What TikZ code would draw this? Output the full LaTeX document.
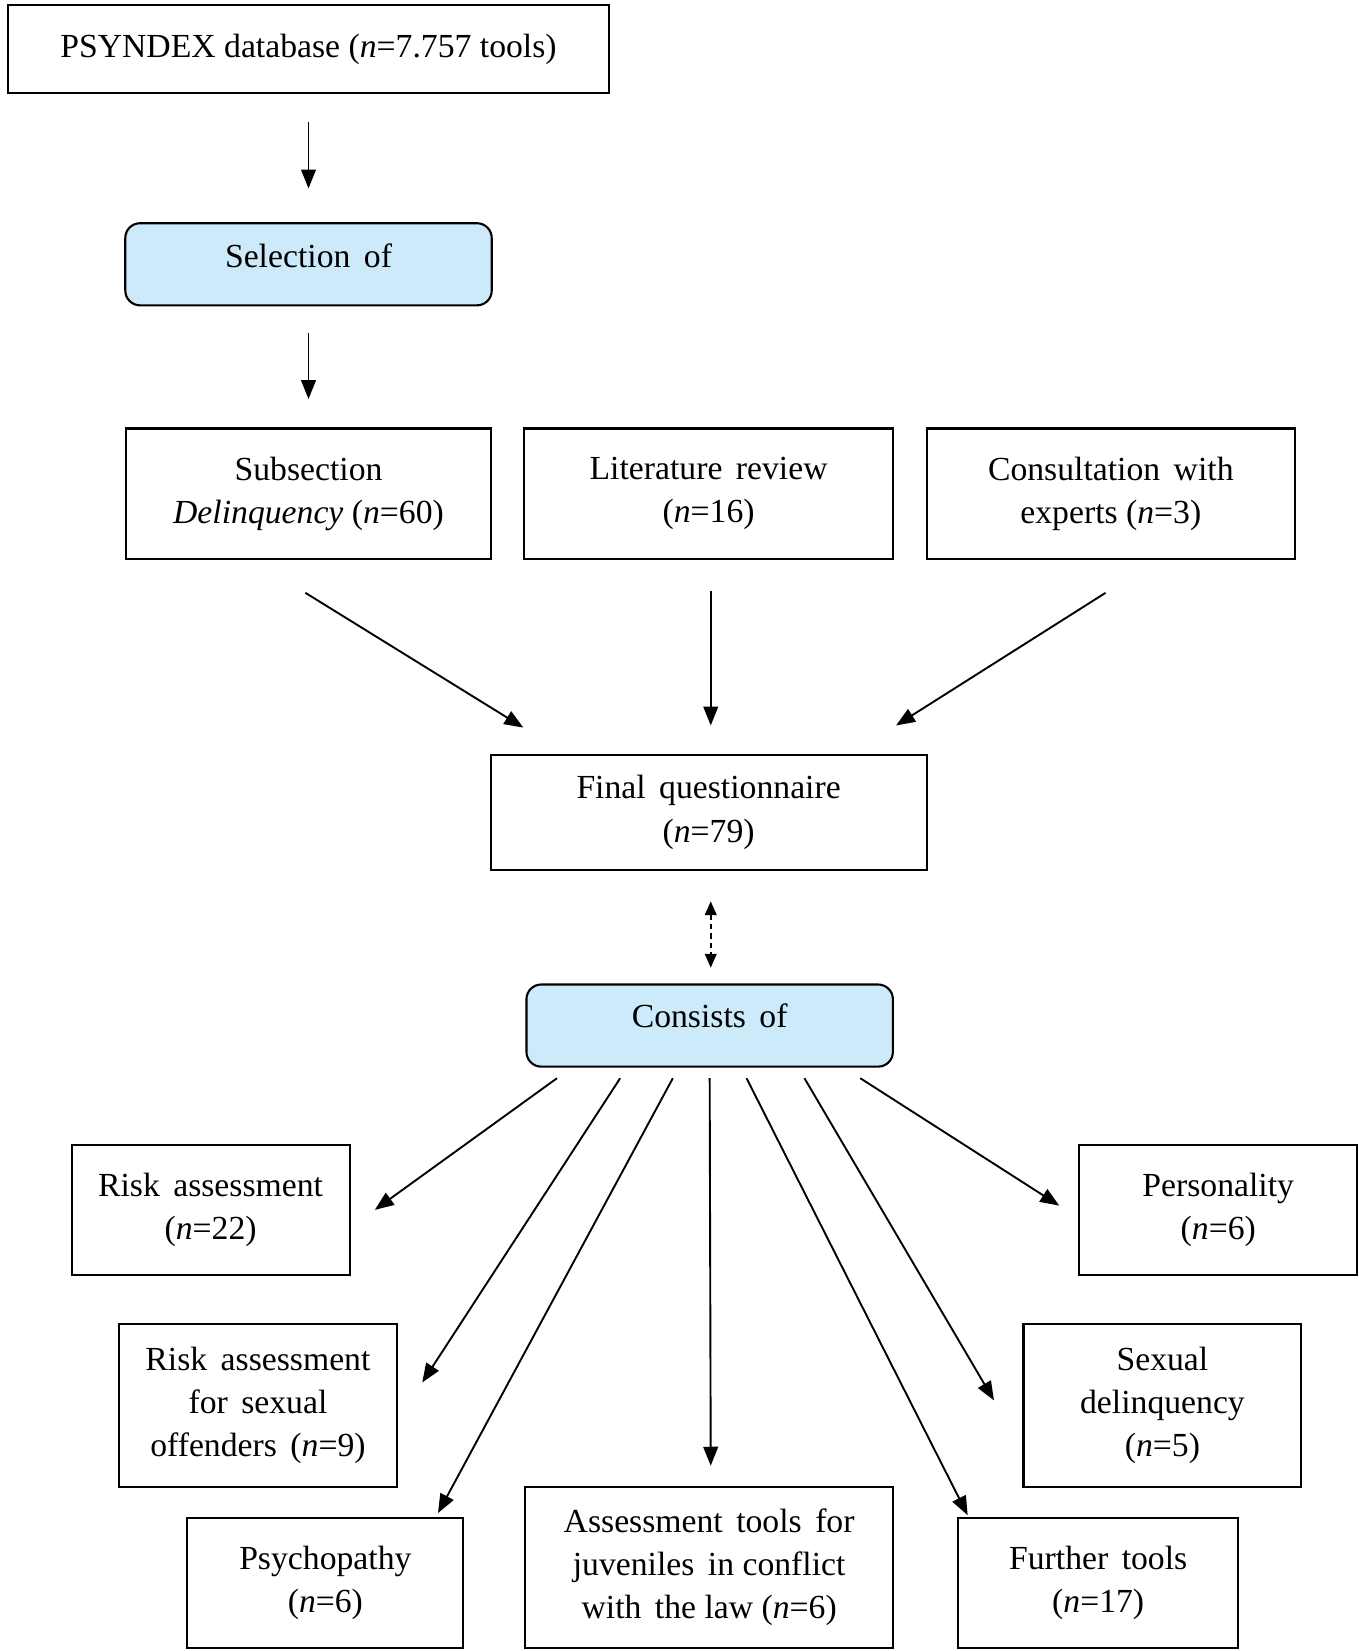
\documentclass[tikz,border=0pt]{standalone}
\usepackage{fontspec}
\setmainfont{Liberation Serif}
\usetikzlibrary{arrows.meta}
\definecolor{boxblue}{RGB}{204,234,250}
\newcommand{\ws}{\hspace{0.4em}}
\begin{document}
\begin{tikzpicture}[x=0.5pt,y=-0.5pt,
  font=\fontsize{16}{20.5}\selectfont,
  box/.style={draw, line width=1pt, align=center, inner sep=0pt},
  bluebox/.style={draw, line width=1pt, fill=boxblue, rounded corners=7pt, inner sep=0pt},
  arr/.style={line width=0.9pt, -{Triangle[length=9pt,width=7pt]}},
  darr/.style={line width=0.9pt, dash pattern=on 2.5pt off 2pt, {Triangle[length=6.5pt,width=5.5pt]}-{Triangle[length=6.5pt,width=5.5pt]}}]
\useasboundingbox (0,0) rectangle (1290,1568);
\fill[white] (0,0) rectangle (1290,1568);

\node[box, minimum width=285pt, minimum height=41.5pt] (psy) at (293,46.5) {PSYNDEX database (\textit{n}=7.757 tools)};
\node[bluebox, minimum width=174pt, minimum height=39pt] (sel) at (293,251) {};
\node[yshift=4pt] (seltxt) at (sel) {Selection\ws of};

\node[box, minimum width=173.5pt, minimum height=62pt] (sub) at (293,469) {Subsection\\\textit{Delinquency} (\textit{n}=60)};
\node[box, minimum width=175pt, minimum height=62pt] (lit) at (673,469) {Literature\ws review\\(\textit{n}=16)};
\node[box, minimum width=175pt, minimum height=62pt] (con) at (1055,469) {Consultation\ws with\\experts (\textit{n}=3)};

\node[box, minimum width=207pt, minimum height=54.5pt] (fin) at (673,771.5) {Final\ws questionnaire\\(\textit{n}=79)};

\node[bluebox, minimum width=174pt, minimum height=39pt] (cons) at (674,974) {};
\node[yshift=4.5pt] (constxt) at (cons) {Consists\ws of};

\node[box, minimum width=132pt, minimum height=62pt] (risk) at (200,1149) {Risk\ws assessment\\(\textit{n}=22)};
\node[box, minimum width=132pt, minimum height=77.5pt] (rsx) at (245,1334.5) {Risk\ws assessment\\for\ws sexual\\offenders\ws (\textit{n}=9)};
\node[box, minimum width=131pt, minimum height=61.5pt] (psych) at (309,1503.5) {Psychopathy\\(\textit{n}=6)};
\node[box, minimum width=174.5pt, minimum height=76.5pt] (ass) at (673.5,1488.5) {Assessment\ws tools\ws for\\juveniles\ws in conflict\\with\ws the law (\textit{n}=6)};
\node[box, minimum width=133pt, minimum height=61.5pt] (fur) at (1043,1503.5) {Further\ws tools\\(\textit{n}=17)};
\node[box, minimum width=132pt, minimum height=77.5pt] (sex) at (1104,1334.5) {Sexual\\delinquency\\(\textit{n}=5)};
\node[box, minimum width=132pt, minimum height=62pt] (per) at (1157,1149) {Personality\\(\textit{n}=6)};

% arrows
\draw[arr] ([yshift=-13.5pt]psy.south) -- ([yshift=16pt]sel.north);
\draw[arr] ([yshift=-12.5pt]sel.south) -- ([yshift=13.5pt]sub.north);

\draw[arr] ([xshift=-1.5pt,yshift=-15.5pt]sub.south) -- ([xshift=16pt,yshift=12.5pt]fin.north west);
\draw[arr] ([xshift=1pt,yshift=-14.5pt]lit.south) -- ([xshift=1pt,yshift=13.5pt]fin.north);
\draw[arr] ([xshift=-2.5pt,yshift=-15.5pt]con.south) -- ([xshift=-15pt,yshift=13.5pt]fin.north east);

\draw[darr] ([xshift=1pt,yshift=-14.5pt]fin.south) -- ([xshift=0.5pt,yshift=7.5pt]cons.north);

\draw[arr] ([xshift=15pt,yshift=-5pt]cons.south west) -- ([xshift=11.5pt]risk.east);
\draw[arr] ([xshift=45pt,yshift=-5pt]cons.south west) -- ([xshift=11.5pt,yshift=10.75pt]rsx.east);
\draw[arr] ([xshift=70pt,yshift=-5pt]cons.south west) -- ([xshift=-12.5pt,yshift=2pt]psych.north east);
\draw[arr] ([xshift=87.5pt,yshift=-5pt]cons.south west) -- ([xshift=0.75pt,yshift=9.5pt]ass.north);
\draw[arr] ([xshift=105pt,yshift=-5pt]cons.south west) -- ([xshift=5pt,yshift=1pt]fur.north west);
\draw[arr] ([xshift=132.5pt,yshift=-5pt]cons.south west) -- ([xshift=-13.5pt,yshift=2.25pt]sex.west);
\draw[arr] ([xshift=159pt,yshift=-5pt]cons.south west) -- ([xshift=-9pt,yshift=2pt]per.west);
\end{tikzpicture}
\end{document}
